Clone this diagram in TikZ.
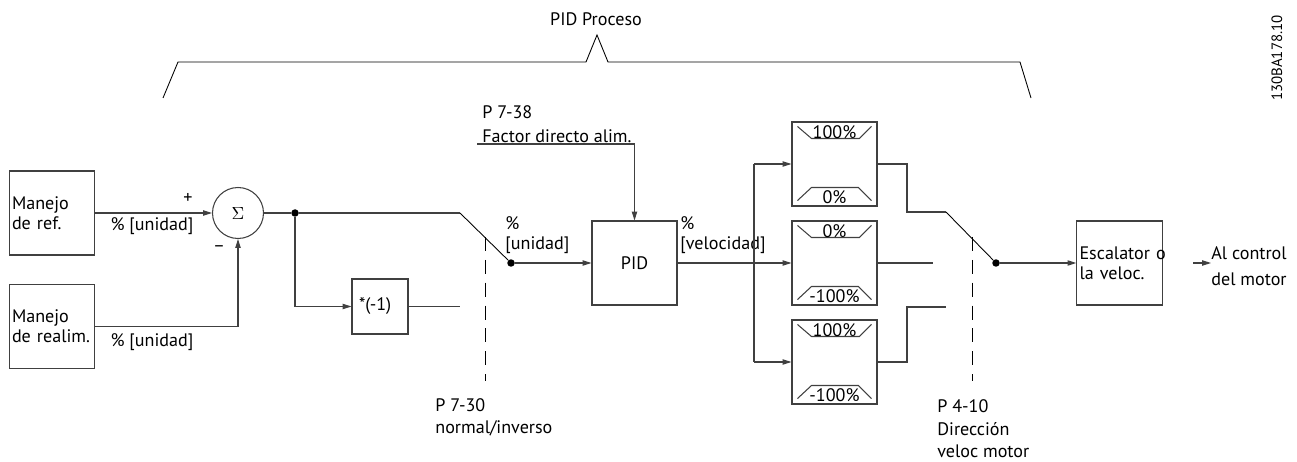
\documentclass[tikz,border=0pt]{standalone}
\usepackage[no-math]{fontspec}
\setmainfont{PT Sans}
\usetikzlibrary{arrows.meta,calc}

\begin{document}
\begin{tikzpicture}[
        x=0.02cm, y=-0.02cm,
        every node/.style={font=\fontsize{10.3}{11.5}\selectfont},
        line/.style={draw=black!75, line width=0.6pt},
        switch/.style={draw=black, line width=0.5pt},
        arr/.style={line, -{Triangle[length=5pt,width=3pt]}},
        dashline/.style={draw=black, line width=0.5pt, dash pattern=on 8pt off 5pt},
        block/.style={line, minimum width=1.7cm, minimum height=1.68cm, inner sep=1.5pt},
        txtblock/.style={block, text width=1.6cm, align=left},
        limbox/.style={block},
        dot/.style={circle, fill=black, inner sep=0pt, minimum size=0.15cm},
        lbl/.style={inner sep=0pt, align=left},
    ]
    \useasboundingbox (0,0) rectangle (1297,462);

    % bracket
    \draw[switch] (163,98) -- (178,62) -- (586,62) -- (597,35) -- (608,62) -- (1020,62) -- (1031,98);
    \node[lbl] (title) at (596,19) {PID Proceso};
    \node[lbl, rotate=90, font=\fontsize{8.5}{9}\selectfont] (code) at (1277,58) {130BA178.10};

    % blocks
    \node[txtblock] (ref) at (52,213) {Manejo\\de ref.};
    \node[txtblock] (realim) at (52,326.5) {Manejo\\de realim.};
    \node[line, circle, minimum size=1.02cm, inner sep=0pt] (sum) at (238,213) {$\Sigma$};
    \node[dot] (j1) at (295,213) {};
    \node[block, minimum width=1.12cm, minimum height=1.1cm, inner xsep=4pt, text width=1.12cm-8pt, align=left] (neg) at (380,306.5) {*(-1)};
    \node[dot] (sw1) at (511,263) {};
    \node[block] (pid) at (634.5,263) {PID};
    \node[limbox] (lim1) at (834.5,164) {};
    \node[limbox] (lim2) at (834.5,263) {};
    \node[limbox] (lim3) at (834.5,362) {};
    \node[dot] (sw2) at (996,263) {};
    \node[txtblock] (esc) at (1119.5,263) {\mbox{Escalator o}\\la veloc.};
    \node[lbl, anchor=west, font=\fontsize{10.3}{14.5}\selectfont] (out) at (1211,266) {Al control\\del motor};

    % limiter marks
    \foreach \b/\hi/\lo in {lim1/100\%/0\%, lim2/0\%/-100\%, lim3/100\%/-100\%} {
        \draw[line] ($(\b.north west)+(6,5)$) -- ++(14,12) -- ++(48,0) -- ++(12,-12);
        \node[lbl] at ($(\b.north)+(0,10.5)$) {\hi};
        \draw[line] ($(\b.south west)+(6,-6)$) -- ++(14,-13) -- ++(47,0) -- ++(13,13);
        \node[lbl] at ($(\b.south)+(0,-9)$) {\lo};
    }

    % labels
    \node[lbl] (plus) at (188,198) {+};
    \node[lbl] (minus) at (219,249) {--};
    \node[lbl] (u1) at (152,226) {\% [unidad]};
    \node[lbl] (u2) at (152,342) {\% [unidad]};
    \node[lbl, anchor=west] (u3) at (505,235) {\%\\{}[unidad]};
    \node[lbl, anchor=west] (vel) at (680,235) {\%\\{}[velocidad]};
    \node[lbl, anchor=west, font=\fontsize{10.3}{13.5}\selectfont] (p738) at (482,124) {P 7-38\\Factor directo alim.};
    \node[lbl, anchor=west, font=\fontsize{10.3}{12.5}\selectfont] (p730) at (435,417) {P 7-30\\normal/inverso};
    \node[lbl, anchor=west, font=\fontsize{10.3}{12.8}\selectfont] (p410) at (937,429) {P 4-10\\Dirección\\veloc motor};

    % connectors
    \draw[arr] (ref) -- (sum);
    \draw[arr] (realim.east) -| (sum.south);
    \coordinate (sw1a) at (460,213);
    \draw[line] (sum) -- (j1) -- (sw1a);
    \draw[switch] (sw1a) -- (sw1);
    \draw[arr] (j1) |- (neg);
    \coordinate (neg0) at (460,306.5);
    \draw[line] (neg) -- (neg0);
    \draw[arr] (sw1) -- (pid);
    \coordinate (ff) at (477,144);
    \draw[arr] (ff) -| (pid.north);
    \draw[arr] (pid) -- (lim2);
    \coordinate (bus) at (754,263);
    \draw[line] (bus |- lim1.west) -- (bus |- lim3.west);
    \draw[arr] (bus |- lim1.west) -- (lim1.west);
    \draw[arr] (bus |- lim3.west) -- (lim3.west);
    \coordinate (k1) at (907,212);
    \coordinate (sw2a) at (946,212);
    \draw[line] (lim1.east) -| (k1) -- (sw2a);
    \draw[switch] (sw2a) -- (sw2);
    \coordinate (o2) at (933,263);
    \draw[line] (lim2) -- (o2);
    \coordinate (k3) at (907,307);
    \coordinate (o3) at (946,307);
    \draw[line] (lim3.east) -| (k3) -- (o3);
    \draw[arr] (sw2) -- (esc);
    \coordinate (outa) at (1193,263);
    \draw[arr] (outa) -- (outa -| out.west);

    % dashed selectors
    \coordinate (d1t) at (485,237);
    \coordinate (d1b) at (485,381);
    \draw[dashline] (d1t) -- (d1b);
    \coordinate (d2t) at (972,237);
    \coordinate (d2b) at (972,381);
    \draw[dashline] (d2t) -- (d2b);
\end{tikzpicture}
\end{document}
